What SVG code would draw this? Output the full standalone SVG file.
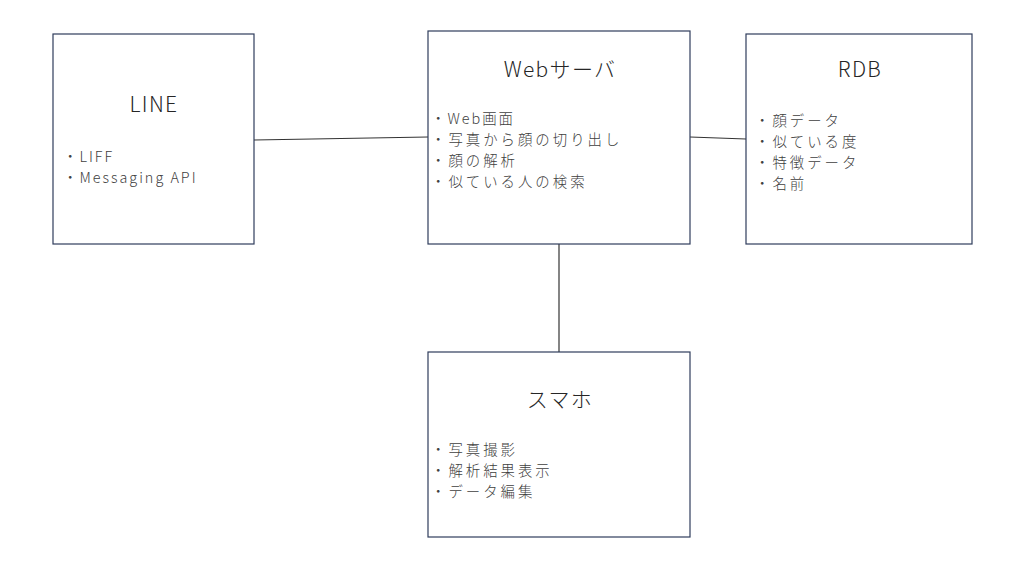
<svg xmlns="http://www.w3.org/2000/svg" width="1024" height="563" viewBox="0 0 1024 563">
<style>
.box{fill:#ffffff;stroke:#2f3d5c;stroke-width:1.2}
.title{font-family:"Noto Sans CJK JP","Noto Sans",sans-serif;font-size:21px;fill:#262626;text-anchor:middle;font-weight:300;letter-spacing:1.3px}
.item{font-family:"Noto Sans CJK JP","Noto Sans",sans-serif;font-size:14.4px;fill:#404040;font-weight:300;letter-spacing:3px}
.lat{letter-spacing:2px}
.conn{stroke:#333333;stroke-width:1.2;fill:none}
</style>
<rect width="1024" height="563" fill="#ffffff"/>
<g id="connectors">
<line class="conn" x1="254" y1="140" x2="428" y2="137"/>
<line class="conn" x1="690" y1="137" x2="746" y2="139"/>
<line class="conn" x1="559" y1="244" x2="559" y2="352"/>
</g>
<g id="line">
<rect class="box" x="53" y="34" width="201" height="210"/>
<text class="title" x="154" y="112">LINE</text>
<text class="item lat" x="63" y="162">・LIFF</text>
<text class="item lat" x="63" y="183">・Messaging API</text>
</g>
<g id="webserver">
<rect class="box" x="428" y="31" width="262" height="213"/>
<text class="title" x="560" y="77">Webサーバ</text>
<text class="item lat" x="431" y="124">・Web画面</text>
<text class="item" x="431" y="145">・写真から顔の切り出し</text>
<text class="item" x="431" y="166">・顔の解析</text>
<text class="item" x="431" y="187">・似ている人の検索</text>
</g>
<g id="rdb">
<rect class="box" x="746" y="34" width="226" height="210"/>
<text class="title" x="860" y="77">RDB</text>
<text class="item" x="755" y="126">・顔データ</text>
<text class="item" x="755" y="147">・似ている度</text>
<text class="item" x="755" y="168">・特徴データ</text>
<text class="item" x="755" y="189">・名前</text>
</g>
<g id="smaho">
<rect class="box" x="428" y="352" width="262" height="185"/>
<text class="title" x="560" y="407">スマホ</text>
<text class="item" x="431" y="455">・写真撮影</text>
<text class="item" x="431" y="476">・解析結果表示</text>
<text class="item" x="431" y="497">・データ編集</text>
</g>
</svg>
